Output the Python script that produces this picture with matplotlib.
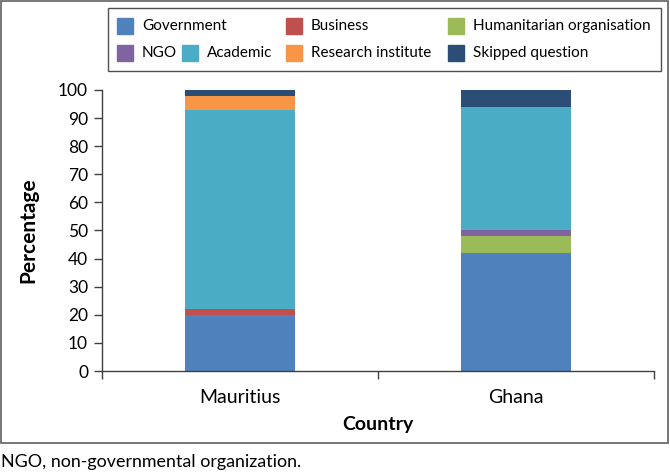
import matplotlib
matplotlib.use("Agg")
import matplotlib.pyplot as plt
from matplotlib.patches import Rectangle

plt.rcParams['font.family'] = ['Lato', 'DejaVu Sans']

# data (percent of respondents)
countries = ['Mauritius', 'Ghana']
categories = ['Government', 'Business', 'Humanitarian organisation', 'NGO',
              'Academic', 'Research institute', 'Skipped question']
government = [20, 42]
business = [2, 0]
humanitarian = [0, 6]
ngo = [0, 2]
academic = [71, 44]
research = [5, 0]
skipped = [2, 6]
series = [government, business, humanitarian, ngo, academic, research, skipped]
colors = ['#4F81BD', '#C0504D', '#9BBB59', '#8064A2', '#4BACC6', '#F79646', '#2C4D75']

W, H = 670, 472
fig = plt.figure(figsize=(W / 100, H / 100), dpi=100)

def fx(px):
    return px / W

def fy(py):
    return 1 - py / H

ax = fig.add_axes([fx(102), fy(371), fx(654) - fx(102), fy(90) - fy(371)])

x = list(range(len(countries)))
bottom = [0] * len(countries)
for vals, col in zip(series, colors):
    ax.bar(x, vals, width=0.4, bottom=bottom, color=col, edgecolor='none')
    bottom = [b + v for b, v in zip(bottom, vals)]

ax.set_xlim(-0.5, 1.5)
ax.set_ylim(0, 100)
ax.set_yticks(range(0, 101, 10))
ax.set_xticks([-0.5, 0.5, 1.5])
ax.set_xticklabels([])
ax.set_xticks(x, minor=True)
ax.set_xticklabels(countries, minor=True, fontsize=14)
ax.tick_params(axis='x', which='minor', length=0, pad=13)
ax.tick_params(axis='x', which='major', length=6, width=1, color='#404040', direction='out')
ax.tick_params(axis='y', length=6, width=1, color='#404040', labelsize=12.5, pad=4)
for s in ['top', 'right']:
    ax.spines[s].set_visible(False)
for s in ['left', 'bottom']:
    ax.spines[s].set_color('#404040')
    ax.spines[s].set_linewidth(1)

ax.set_xlabel('Country', fontsize=14, fontweight='bold', labelpad=7)
fig.text(fx(28), fy(230), 'Percentage', rotation=90, fontsize=15,
         fontweight='bold', ha='center', va='center')

# legend drawn by hand (Excel flow layout)
fig.patches.append(Rectangle((fx(108), fy(71)), fx(661) - fx(108), fy(8) - fy(71),
                             transform=fig.transFigure, fill=False,
                             edgecolor='#505050', linewidth=1))
leg_pos = [(117, 26), (286, 26), (448, 26), (117, 53), (182, 53), (286, 53), (448, 53)]
for name, col, (px, py) in zip(categories, colors, leg_pos):
    fig.patches.append(Rectangle((fx(px), fy(py + 8)), fx(16), fy(0) - fy(16),
                                 transform=fig.transFigure, color=col))
    fig.text(fx(px + 25), fy(py), name, fontsize=11, ha='left', va='center')

# outer frame
fig.patches.append(Rectangle((fx(1), fy(443)), fx(667), fy(1) - fy(443),
                             transform=fig.transFigure, fill=False,
                             edgecolor='#606060', linewidth=1.2))

fig.text(fx(1), fy(462), 'NGO, non-governmental organization.', fontsize=12.9,
         ha='left', va='center')

fig.savefig('out.png', dpi=100)
